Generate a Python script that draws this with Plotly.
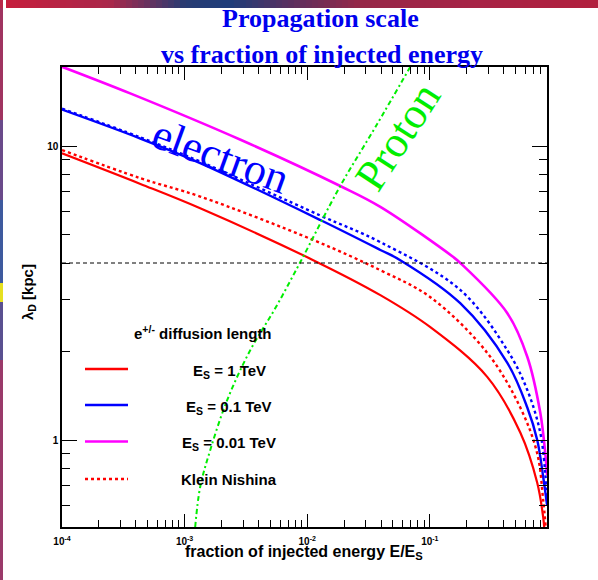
import plotly.graph_objects as go

# ---------------- data ----------------
x_es1 = [1e-4, 4.36e-4, 1.34e-3, 0.0112, 0.0395, 0.101, 0.294, 0.547, 0.752, 0.841, 0.857]
y_es1 = [9.44, 7.43, 6.14, 4.09, 3.11, 2.42, 1.64, 1.06, 0.715, 0.547, 0.506]

x_es1_kn = [1e-4, 4.36e-4, 1.34e-3, 0.0112, 0.0395, 0.101, 0.294, 0.547, 0.752, 0.841, 0.88]
y_es1_kn = [9.69, 7.77, 6.73, 4.79, 3.78, 3.06, 1.98, 1.29, 0.90, 0.625, 0.51]

x_es01 = [1e-4, 4.36e-4, 1.34e-3, 0.0128, 0.0395, 0.0574, 0.177, 0.429, 0.624, 0.752, 0.841, 0.905]
y_es01 = [13.3, 10.6, 8.75, 5.60, 4.43, 4.09, 2.92, 1.83, 1.29, 1.0, 0.75, 0.60]

x_es01_kn = [1e-4, 4.36e-4, 1.34e-3, 0.0128, 0.0395, 0.177, 0.429, 0.624, 0.796, 0.875, 0.905]
y_es01_kn = [13.4, 10.7, 8.85, 5.80, 4.71, 3.24, 2.02, 1.48, 1.06, 0.77, 0.62]

x_es001 = [1e-4, 3.6e-4, 2.86e-3, 0.0186, 0.0395, 0.1555, 0.1775, 0.429, 0.624, 0.796, 0.875, 0.905]
y_es001 = [18.6, 15.1, 10.5, 7.31, 6.21, 4.19, 4.00, 2.70, 1.92, 1.24, 0.90, 0.76]

x_proton = [1.22e-3, 1.34e-3, 1.62e-3, 2.23e-3, 3.43e-3, 5.50e-3, 8.79e-3, 0.0186, 0.0360, 0.0694]
y_proton = [0.506, 0.692, 0.925, 1.37, 2.02, 2.81, 4.03, 7.31, 11.6, 18.6]

ref_level = [4.0]

x_major = [1e-4, 1e-3, 1e-2, 1e-1]
x_major_text = ["10<sup>-4</sup>", "10<sup>-3</sup>", "10<sup>-2</sup>", "10<sup>-1</sup>"]
x_minor = [m * d for d in [1e-4, 1e-3, 1e-2, 1e-1] for m in range(2, 10)]
y_major = [1, 10]
y_major_text = ["1", "10"]
y_minor = [0.6, 0.7, 0.8, 0.9] + list(range(2, 10))

legend_labels = ["E<sub>S</sub> = 1 TeV", "E<sub>S</sub> = 0.1 TeV",
                 "E<sub>S</sub> = 0.01 TeV", "Klein Nishina"]

RED, BLUE, MAG, GREEN = "#ff0000", "#0000ff", "#ff00ff", "#00ee00"

# ---------------- layout geometry ----------------
W, H = 598, 580
ML, MR, MT, MB = 62, 51, 67, 53
PW, PH = W - ML - MR, H - MT - MB


def px(x):
    return (x - ML) / PW


def py(y):
    return (H - MB - y) / PH


fig = go.Figure()

def add(x, y, color, width, dash="solid"):
    fig.add_trace(go.Scatter(x=x, y=y, mode="lines", line_shape="spline",
                             line=dict(color=color, width=width, dash=dash),
                             showlegend=False, hoverinfo="skip"))

add(x_es001, y_es001, MAG, 2.6)
add(x_es01_kn, y_es01_kn, BLUE, 2.4, "3px,3px")
add(x_es01, y_es01, BLUE, 2.4)
add(x_es1_kn, y_es1_kn, RED, 2.4, "3px,3px")
add(x_es1, y_es1, RED, 2.2)
add(x_proton, y_proton, GREEN, 2, "5px,3px,2px,3px")

fig.add_hline(y=ref_level[0], line=dict(color="black", width=1, dash="4px,3px"))

shapes = []
# top decorative gradient bar
stops = [(0, (200, 30, 60)), (110, (170, 40, 75)), (185, (40, 60, 115)),
         (230, (30, 62, 122)), (290, (90, 48, 96)), (360, (150, 40, 72)),
         (480, (168, 36, 70)), (598, (178, 32, 62))]
def interp(x):
    for (x0, c0), (x1, c1) in zip(stops[:-1], stops[1:]):
        if x0 <= x <= x1:
            t = (x - x0) / (x1 - x0)
            return "rgb(%d,%d,%d)" % tuple(int(a + (b - a) * t) for a, b in zip(c0, c1))
    return "rgb(178,32,62)"
step = 6
for xs in range(0, W, step):
    shapes.append(dict(type="rect", xref="paper", yref="paper", x0=px(xs), x1=px(xs + step + 0.5),
                       y0=py(8), y1=py(0), fillcolor=interp(xs + step / 2), line=dict(width=0),
                       layer="below"))
# left decorative strip
lstops = [(0, 8, "#b8284a"), (8, 120, "#a03460"), (120, 200, "#6a4a8a"), (200, 283, "#3e5a9e"),
          (283, 302, "#e6e020"), (302, 360, "#5a5090"), (360, 580, "#9a3a6a")]
for y0, y1, c in lstops:
    shapes.append(dict(type="rect", xref="paper", yref="paper", x0=px(0), x1=px(3),
                       y0=py(y1), y1=py(y0), fillcolor=c, line=dict(width=0), layer="below"))

# legend sample lines
leg_y = [369, 405, 441.5, 479]
leg_col = [RED, BLUE, MAG, RED]
leg_dash = ["solid", "solid", "solid", "3px,3px"]
for yy, c, d in zip(leg_y, leg_col, leg_dash):
    shapes.append(dict(type="line", xref="paper", yref="paper", x0=px(85), x1=px(128),
                       y0=py(yy), y1=py(yy), line=dict(color=c, width=2.4, dash=d)))

HELV = "Liberation Sans, Arial, Helvetica, sans-serif"
SERIF = "Liberation Serif, Times New Roman, serif"

ann = []

def note(text, x, y, family, size, color="black", angle=0):
    ann.append(dict(text=text, x=px(x), y=py(y), xref="paper", yref="paper", showarrow=False,
                    xanchor="center", yanchor="middle", textangle=angle,
                    font=dict(family=family, size=size, color=color)))

note("<b>Propagation scale</b>", 320, 19, SERIF, 26, "#0000ee")
note("<b>vs fraction of injected energy</b>", 322, 54, SERIF, 26, "#0000ee")
note("electron", 221, 156, SERIF, 44, BLUE, 20)
note("Proton", 397, 137, SERIF, 44, GREEN, -57)
note("<b>e<sup>+/-</sup> diffusion length</b>", 203, 332, HELV, 15)
for yy, t in zip(leg_y, legend_labels):
    note("<b>" + t + "</b>", 229, yy + (2 if "sub" in t else 0), HELV, 15)
note("<b>fraction of injected energy E/E<sub>S</sub></b>", 304, 552, HELV, 16)
note("<b>λ<sub>D</sub> [kpc]</b>", 28, 292, HELV, 15, angle=-90)

fig.update_layout(
    width=W, height=H, autosize=False,
    margin=dict(l=ML, r=MR, t=MT, b=MB, pad=0),
    paper_bgcolor="white", plot_bgcolor="white",
    shapes=shapes, annotations=ann, showlegend=False,
    xaxis=dict(type="log", range=[-4, -0.044], showgrid=False, zeroline=False,
               showline=True, linecolor="black", linewidth=1.5, mirror="allticks",
               ticks="inside", ticklen=13, tickwidth=1, tickcolor="black",
               tickmode="array", tickvals=x_major, ticktext=x_major_text,
               tickfont=dict(family=HELV, size=10, color="black", weight="bold"),
               ticklabelstandoff=4,
               minor=dict(ticks="inside", ticklen=7, tickwidth=1, tickcolor="black",
                          tickmode="array", tickvals=x_minor, showgrid=False)),
    yaxis=dict(type="log", range=[-0.2959, 1.2687], showgrid=False, zeroline=False,
               showline=True, linecolor="black", linewidth=1.5, mirror="allticks",
               ticks="inside", ticklen=15, tickwidth=1, tickcolor="black",
               tickmode="array", tickvals=y_major, ticktext=y_major_text,
               tickfont=dict(family=HELV, size=10, color="black", weight="bold"),
               minor=dict(ticks="inside", ticklen=8, tickwidth=1, tickcolor="black",
                          tickmode="array", tickvals=y_minor, showgrid=False)),
)

fig.write_html("out.html")
